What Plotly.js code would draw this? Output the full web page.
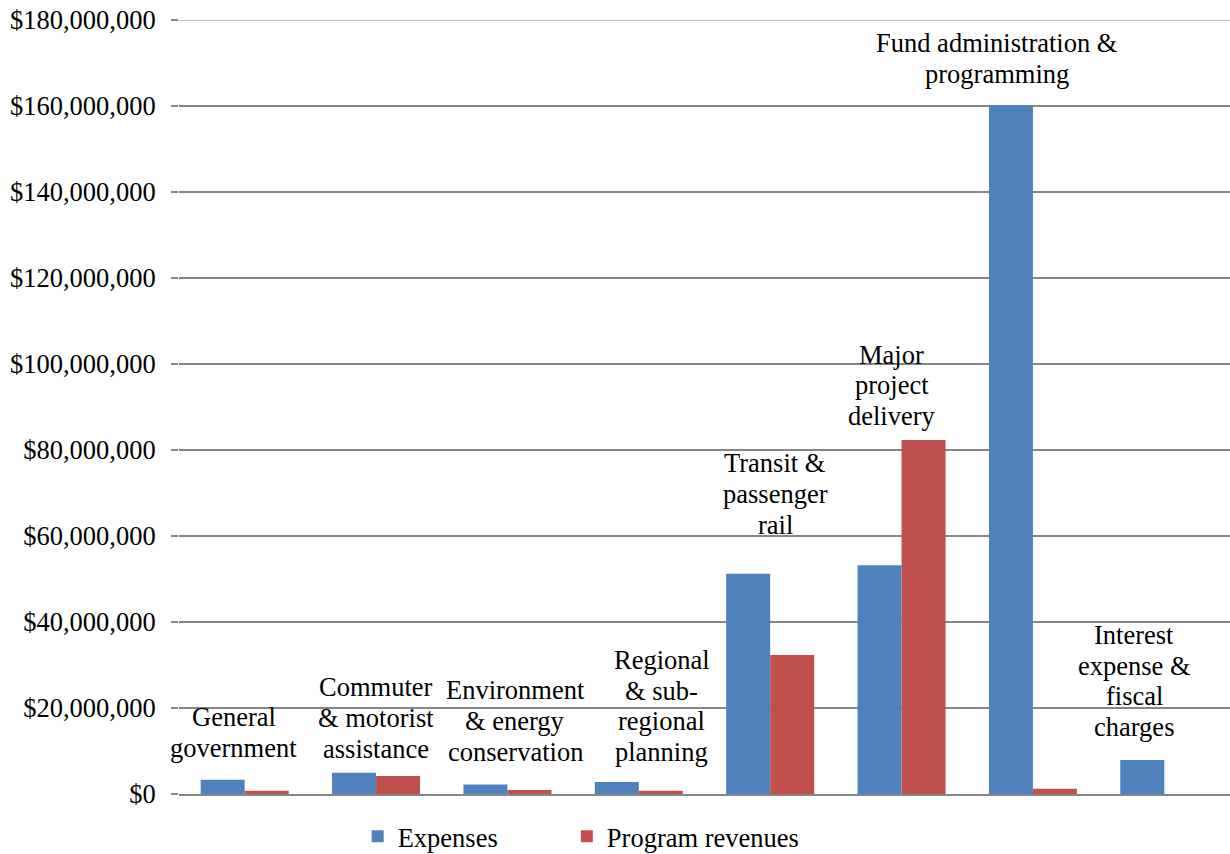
<!DOCTYPE html>
<html>
<head>
<meta charset="utf-8">
<script src="https://cdn.plot.ly/plotly-3.0.1.min.js"></script>
<style>html,body{margin:0;padding:0;background:#fff;}#chart{width:1230px;height:854px;}</style>
</head>
<body>
<div id="chart"></div>
<script>
// ---- data ----
const categories = [
  "General government",
  "Commuter & motorist assistance",
  "Environment & energy conservation",
  "Regional & sub-regional planning",
  "Transit & passenger rail",
  "Major project delivery",
  "Fund administration & programming",
  "Interest expense & fiscal charges"
];
const labelLines = [
  ["General", "government"],
  ["Commuter", "& motorist", "assistance"],
  ["Environment", "& energy", "conservation"],
  ["Regional", "& sub-", "regional", "planning"],
  ["Transit &", "passenger", "rail"],
  ["Major", "project", "delivery"],
  ["Fund administration &", "programming"],
  ["Interest", "expense &", "fiscal", "charges"]
];
const expenses = [3300000, 4950000, 2200000, 2800000, 51200000, 53200000, 160200000, 7900000];
const programRevenues = [770000, 4200000, 930000, 770000, 32300000, 82300000, 1200000, 0];
const seriesNames = ["Expenses", "Program revenues"];
const axisMax = 180000000;

// ---- layout-only offsets for the category labels (pixels) ----
const labelXShift = [-11, 0, 8, 23, 5, -10, -36, -30];
const labelYShift = [32, 24, 33, 30, 49, 24, 31, 33];
const LINE_STEP = 30.7;

const FONT = 'Liberation Serif, Times New Roman, serif';
const FSIZE = 26.5;

const traces = [
  {type: 'bar', name: seriesNames[0], x: categories, y: expenses, legend: 'legend',
   marker: {color: '#4F81BD', line: {width: 0}}},
  {type: 'bar', name: seriesNames[1], x: categories, y: programRevenues, legend: 'legend2',
   marker: {color: '#C0504D', line: {width: 0}}}
];

const annotations = [];
categories.forEach((c, i) => {
  const lines = labelLines[i];
  const n = lines.length;
  lines.forEach((t, j) => {
    annotations.push({
      x: c, y: Math.max(expenses[i], programRevenues[i]),
      xref: 'x', yref: 'y', text: t, showarrow: false,
      xanchor: 'center', yanchor: 'middle',
      xshift: labelXShift[i], yshift: labelYShift[i] + (n - 1 - j) * LINE_STEP,
      font: {family: FONT, size: FSIZE, color: '#000'}
    });
  });
});

const legendBase = {orientation: 'h', y: -0.024, xanchor: 'left', yanchor: 'top',
                    font: {family: FONT, size: FSIZE, color: '#000'},
                    itemwidth: 30, bgcolor: 'rgba(0,0,0,0)'};

const layout = {
  width: 1230, height: 854,
  margin: {l: 179, r: 0, t: 20, b: 60, autoexpand: false},
  paper_bgcolor: '#fff', plot_bgcolor: '#fff',
  font: {family: FONT, size: FSIZE, color: '#000'},
  barmode: 'group',
  bargap: 0.33, bargroupgap: 0,
  showlegend: true,
  legend: Object.assign({}, legendBase, {x: 0.170}),
  legend2: Object.assign({}, legendBase, {x: 0.369}),
  xaxis: {range: [-0.5, categories.length - 0.5], autorange: false,
          showticklabels: false, ticks: '', showgrid: false, zeroline: false,
          showline: true, linecolor: '#868686', linewidth: 1.5, fixedrange: true},
  yaxis: {range: [0, axisMax], dtick: 20000000, tickformat: '$,.0f',
          showgrid: true, gridcolor: '#868686', gridwidth: 1.2,
          zeroline: false, showline: false,
          ticks: 'outside', ticklen: 7, tickcolor: '#868686', tickwidth: 1.2,
          ticklabelstandoff: 10, automargin: false,
          tickfont: {family: FONT, size: FSIZE, color: '#000'}, fixedrange: true},
  shapes: [{type: 'line', xref: 'paper', yref: 'y', x0: 0, x1: 1, y0: axisMax, y1: axisMax,
            line: {color: '#868686', width: 1.2}}],
  annotations: annotations
};

Plotly.newPlot('chart', traces, layout, {displayModeBar: false, staticPlot: true});
</script>
</body>
</html>
